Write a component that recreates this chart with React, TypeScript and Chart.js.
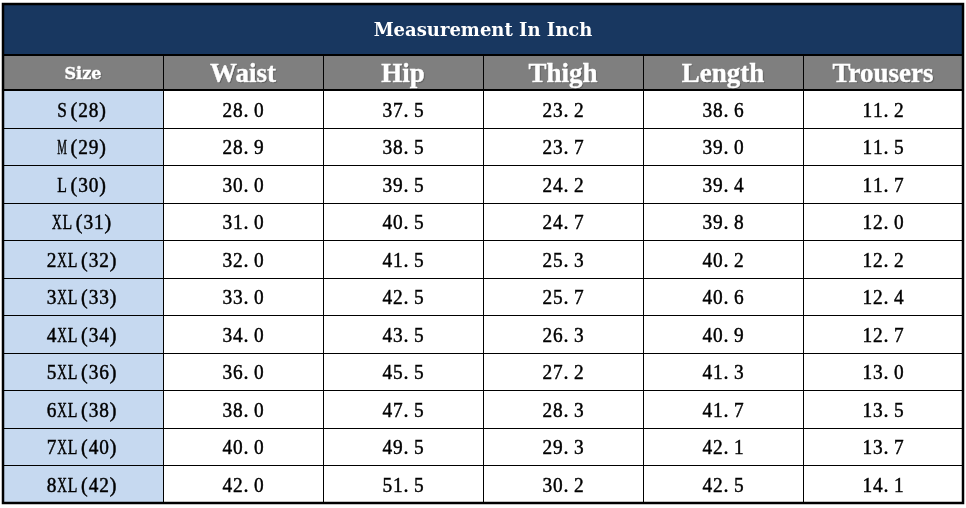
import React, { useEffect, useRef } from "react";
import { Chart, registerables } from "chart.js";

Chart.register(...registerables);

const title = "Measurement In Inch";
const columns = ["Size", "Waist", "Hip", "Thigh", "Length", "Trousers"];
const sizes = ["S(28)", "M(29)", "L(30)", "XL(31)", "2XL(32)", "3XL(33)", "4XL(34)", "5XL(36)", "6XL(38)", "7XL(40)", "8XL(42)"];
const waist = [28.0, 28.9, 30.0, 31.0, 32.0, 33.0, 34.0, 36.0, 38.0, 40.0, 42.0];
const hip = [37.5, 38.5, 39.5, 40.5, 41.5, 42.5, 43.5, 45.5, 47.5, 49.5, 51.5];
const thigh = [23.2, 23.7, 24.2, 24.7, 25.3, 25.7, 26.3, 27.2, 28.3, 29.3, 30.2];
const lengthIn = [38.6, 39.0, 39.4, 39.8, 40.2, 40.6, 40.9, 41.3, 41.7, 42.1, 42.5];
const trousers = [11.2, 11.5, 11.7, 12.0, 12.2, 12.4, 12.7, 13.0, 13.5, 13.7, 14.1];

const valueSeries = [waist, hip, thigh, lengthIn, trousers];

const NAVY = "#183760";
const GRAY = "#7F7F7F";
const LIGHTBLUE = "#C6D9F0";

function drawChar(ctx: CanvasRenderingContext2D, ch: string, x: number, y: number, maxW: number) {
  const w = ctx.measureText(ch).width;
  if (w > maxW) {
    const s = maxW / w;
    ctx.save();
    ctx.translate(x, y);
    ctx.scale(s, 1);
    ctx.fillText(ch, 0, 0);
    ctx.strokeText(ch, 0, 0);
    ctx.restore();
  } else {
    ctx.fillText(ch, x, y);
    ctx.strokeText(ch, x, y);
  }
}

function drawMono(ctx: CanvasRenderingContext2D, text: string, cx: number, cy: number, adv: number) {
  const total = text.length * adv;
  const start = cx - total / 2;
  const maxW = adv * 0.92;
  for (let i = 0; i < text.length; i++) {
    const ch = text[i];
    const cellL = start + adv * i;
    if (ch === ".") {
      ctx.textAlign = "left";
      drawChar(ctx, ch, cellL + 0.5, cy, maxW);
    } else if (ch === "(") {
      ctx.textAlign = "right";
      drawChar(ctx, ch, cellL + adv - 0.5, cy, maxW);
    } else if (ch === ")") {
      ctx.textAlign = "left";
      drawChar(ctx, ch, cellL + 0.5, cy, maxW);
    } else {
      ctx.textAlign = "center";
      drawChar(ctx, ch, cellL + adv / 2, cy, maxW);
    }
  }
}

const tablePlugin = {
  id: "tablePlugin",
  beforeDraw(chart: any) {
    const ctx = chart.ctx as CanvasRenderingContext2D;
    ctx.save();
    ctx.fillStyle = "#fff";
    ctx.fillRect(0, 0, chart.width, chart.height);
    ctx.restore();
  },
  afterDatasetsDraw(chart: any) {
    const ctx = chart.ctx as CanvasRenderingContext2D;
    const xs = chart.scales.x;
    const ys = chart.scales.y;
    const nCols = columns.length;
    const nRows = sizes.length;
    const colX = (c: number) => xs.getPixelForValue(c);
    const rowY = (r: number) => ys.getPixelForValue(r);
    const rowH = rowY(1) - rowY(0);
    const left = colX(0);
    const right = colX(nCols);
    const bodyTop = rowY(0);
    const bottom = rowY(nRows);
    const headerTop = bodyTop - rowH * 0.93;
    const titleTop = headerTop - rowH * 1.36;

    ctx.save();
    ctx.fillStyle = NAVY;
    ctx.fillRect(left, titleTop, right - left, headerTop - titleTop);
    ctx.fillStyle = GRAY;
    ctx.fillRect(left, headerTop, right - left, bodyTop - headerTop);
    ctx.fillStyle = LIGHTBLUE;
    ctx.fillRect(left, bodyTop, colX(1) - left, bottom - bodyTop);

    ctx.strokeStyle = "#000";
    ctx.lineWidth = 1;
    ctx.beginPath();
    for (let r = 1; r < nRows; r++) {
      const y = Math.round(rowY(r)) + 0.5;
      ctx.moveTo(left, y);
      ctx.lineTo(right, y);
    }
    for (let c = 1; c < nCols; c++) {
      const x = Math.round(colX(c)) + 0.5;
      ctx.moveTo(x, headerTop);
      ctx.lineTo(x, bottom);
    }
    ctx.stroke();

    ctx.lineWidth = 2;
    ctx.beginPath();
    ctx.moveTo(left, Math.round(bodyTop));
    ctx.lineTo(right, Math.round(bodyTop));
    ctx.moveTo(left, Math.round(headerTop));
    ctx.lineTo(right, Math.round(headerTop));
    ctx.stroke();

    ctx.lineWidth = 2.5;
    ctx.strokeRect(left, titleTop, right - left, bottom - titleTop);

    ctx.fillStyle = "#fff";
    ctx.textBaseline = "middle";
    ctx.textAlign = "center";
    ctx.font = "bold 18px 'DejaVu Serif'";
    ctx.fillText(title, (left + right) / 2, (titleTop + headerTop) / 2 + 2);

    const hy = (headerTop + bodyTop) / 2 + 2.5;
    columns.forEach((name, c) => {
      const cx = (colX(c) + colX(c + 1)) / 2;
      if (c === 0) {
        ctx.font = "bold 16px 'DejaVu Serif'";
      } else {
        ctx.font = "bold 27px 'Liberation Serif'";
      }
      ctx.textAlign = "center";
      ctx.shadowColor = "rgba(0,0,0,0.3)";
      ctx.shadowOffsetX = 1;
      ctx.shadowOffsetY = 1;
      ctx.shadowBlur = 1;
      ctx.fillStyle = "#fff";
      ctx.fillText(name, cx, hy);
      ctx.shadowColor = "transparent";
      ctx.strokeStyle = "#fff";
      ctx.lineWidth = 0.4;
      ctx.strokeText(name, cx, hy);
    });

    ctx.fillStyle = "#000";
    ctx.strokeStyle = "#000";
    ctx.lineWidth = 0.45;
    ctx.font = "20px 'Liberation Serif'";
    const adv = 10.5;
    for (let r = 0; r < nRows; r++) {
      const cy = (rowY(r) + rowY(r + 1)) / 2 + 2.5;
      drawMono(ctx, sizes[r], (colX(0) + colX(1)) / 2, cy, adv);
      valueSeries.forEach((series, i) => {
        const c = i + 1;
        drawMono(ctx, series[r].toFixed(1), (colX(c) + colX(c + 1)) / 2, cy, adv);
      });
    }
    ctx.restore();
  },
};

export default function App() {
  const ref = useRef<HTMLCanvasElement | null>(null);
  useEffect(() => {
    if (!ref.current) return;
    const datasets = valueSeries.map((series, i) => ({
      label: columns[i + 1],
      data: series.map((v, r) => ({ x: i + 1.5, y: r + 0.5, v })),
      pointRadius: 0,
      showLine: false,
    }));
    const chart = new Chart(ref.current, {
      type: "scatter",
      data: { datasets: datasets as any },
      options: {
        animation: false,
        responsive: false,
        devicePixelRatio: 1,
        layout: { padding: { left: 3, right: 3, top: 90, bottom: 5 } },
        plugins: { legend: { display: false }, tooltip: { enabled: false } },
        scales: {
          x: { type: "linear", min: 0, max: columns.length, display: false },
          y: { type: "linear", min: 0, max: sizes.length, reverse: true, display: false },
        },
      },
      plugins: [tablePlugin],
    });
    return () => chart.destroy();
  }, []);
  return (
    <div style={{ position: "fixed", left: 0, top: 0, width: 966, height: 508 }}>
      <canvas ref={ref} width={966} height={508} />
    </div>
  );
}
